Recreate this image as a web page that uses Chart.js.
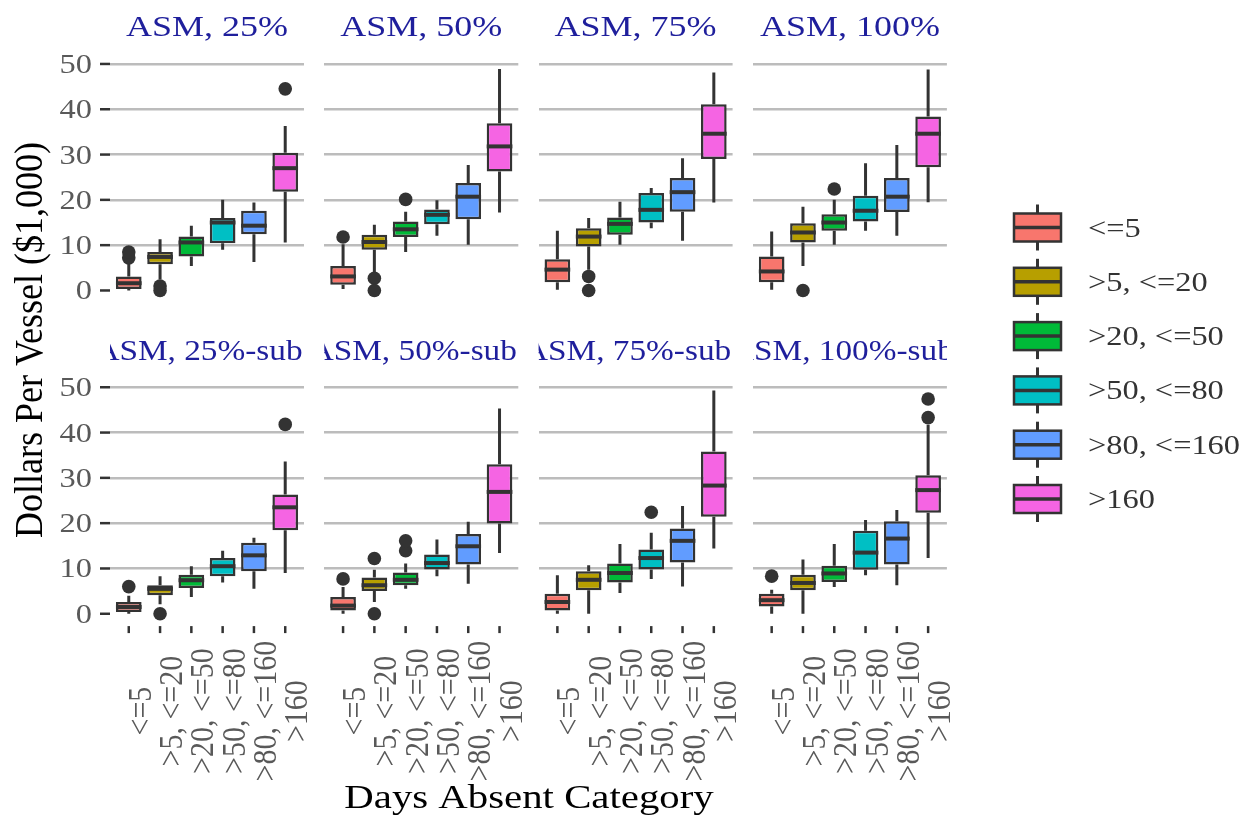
<!DOCTYPE html>
<html>
<head>
<meta charset="utf-8">
<script src="https://cdn.jsdelivr.net/npm/chart.js@4.4.1/dist/chart.umd.min.js"></script>
<style>
  html, body { margin: 0; padding: 0; background: #fff; }
  #wrap { position: relative; width: 1250px; height: 816px; overflow: hidden; background: #fff; filter: blur(0.4px); }
  #wrap canvas { position: absolute; left: 0; top: 0; }
</style>
</head>
<body>
<div id="wrap"></div>
<script>
// categorias do eixo x
const categories = ['<=5', '>5, <=20', '>20, <=50', '>50, <=80', '>80, <=160', '>160'];
const panelTitles = ['ASM, 25%', 'ASM, 50%', 'ASM, 75%', 'ASM, 100%',
                     'ASM, 25%-sub', 'ASM, 50%-sub', 'ASM, 75%-sub', 'ASM, 100%-sub'];
const boxColors = ['#F8766D', '#B79F00', '#00BA38', '#00BFC4', '#619CFF', '#F564E3'];

// estatisticas dos boxplots, uma linha por painel
const whiskerLow = [
    [0.0, 2.4, 5.4, 9.0, 6.3, 10.6],
    [0.3, 3.8, 8.5, 12.1, 10.1, 17.2],
    [0.15, 4.6, 10.1, 13.75, 11.0, 19.4],
    [0.15, 5.4, 10.1, 13.2, 12.1, 19.5],
    [0.0, 2.1, 3.7, 6.9, 5.5, 9.0],
    [0.0, 2.6, 5.5, 8.3, 6.6, 13.4],
    [0.0, 0.0, 4.6, 7.7, 6.0, 14.4],
    [0.0, 0.0, 5.9, 8.5, 6.3, 12.3]
];
const q1 = [
    [0.3, 5.8, 7.5, 10.4, 12.4, 21.8],
    [1.25, 9.0, 11.8, 14.6, 15.7, 26.25],
    [1.8, 9.7, 12.3, 15.0, 17.4, 29.0],
    [1.8, 10.6, 13.2, 15.2, 17.3, 27.2],
    [0.4, 4.1, 5.7, 8.3, 9.4, 18.45],
    [0.7, 5.0, 6.3, 9.8, 10.9, 19.9],
    [0.7, 5.2, 6.9, 9.8, 11.3, 21.4],
    [1.6, 5.2, 7.0, 9.7, 10.9, 22.3]
];
const medians = [
    [1.6, 7.4, 10.6, 15.0, 14.3, 27.0],
    [3.1, 10.7, 13.5, 16.7, 20.7, 31.8],
    [4.6, 11.9, 14.7, 17.8, 21.7, 34.6],
    [4.2, 12.8, 15.0, 17.6, 20.7, 34.6],
    [1.5, 5.5, 7.4, 10.5, 12.9, 23.5],
    [1.8, 6.3, 7.5, 11.2, 14.9, 26.9],
    [2.6, 7.5, 9.0, 12.3, 16.1, 28.3],
    [3.0, 6.8, 8.9, 13.5, 16.6, 27.3]
];
const q3 = [
    [3.1, 8.5, 11.9, 16.0, 17.6, 30.4],
    [5.4, 12.3, 15.2, 17.9, 23.7, 36.9],
    [6.9, 13.75, 16.1, 21.5, 24.8, 41.1],
    [7.5, 14.85, 16.8, 20.9, 24.8, 38.4],
    [2.6, 6.3, 8.6, 12.3, 15.7, 26.3],
    [3.7, 8.0, 9.1, 13.1, 17.6, 33.0],
    [4.4, 9.4, 11.1, 14.2, 18.8, 35.8],
    [4.4, 8.6, 10.6, 18.3, 20.4, 30.6]
];
const whiskerHigh = [
    [6.3, 11.3, 14.3, 20.0, 19.4, 36.3],
    [10.2, 14.5, 17.4, 19.9, 27.7, 48.9],
    [13.2, 16.0, 19.6, 22.6, 29.2, 48.1],
    [13.0, 18.5, 20.0, 28.1, 32.1, 48.8],
    [4.0, 8.3, 10.5, 13.9, 16.8, 33.6],
    [5.9, 9.7, 11.1, 16.4, 20.3, 45.3],
    [8.5, 10.7, 15.4, 17.9, 23.8, 49.3],
    [5.3, 12.0, 15.4, 20.7, 22.9, 41.7]
];
// outliers: [indice da categoria, valor]
const outliers = [
    [[0, 7.2], [0, 8.5], [1, 1.0], [1, 0.0], [5, 44.5]],
    [[0, 11.8], [1, 2.7], [1, 0.0], [2, 20.1]],
    [[1, 3.1], [1, 0.0]],
    [[1, 0.0], [2, 22.4]],
    [[0, 6.0], [1, 0.0], [5, 41.8]],
    [[0, 7.7], [1, 12.2], [1, 0.0], [2, 13.9], [2, 16.1]],
    [[3, 22.4]],
    [[0, 8.3], [5, 43.3], [5, 47.4]]
];

const yMin = -2.5, yMax = 51.8;

// layout dos paineis
const PANEL_W = 194, PANEL_H = 246;
const PANEL_LEFT = [110, 324.3, 538.6, 752.9];
const PANEL_TOP = [55.8, 379.1];
const SX = 1.2;      // texto meio esticado na horizontal
const SX_ROT = 1.1;  // idem, para texto girado
const SERIF = '"Liberation Serif", "Times New Roman", serif';
const DARK = '#333333';

const wrap = document.getElementById('wrap');

function texto(ctx, str, x, y, font, color, align, baseline, rot, sx) {
    ctx.save();
    ctx.translate(x, y);
    ctx.scale(sx || (rot ? SX_ROT : SX), 1);
    if (rot) ctx.rotate(rot);
    ctx.font = font;
    ctx.fillStyle = color;
    ctx.textAlign = align;
    ctx.textBaseline = baseline;
    ctx.fillText(str, 0, 0);
    ctx.restore();
}

function desenhaLegenda(ctx) {
    categories.forEach(function (c, i) {
        const cy = 227.5 + 54.3 * i;
        ctx.save();
        ctx.strokeStyle = DARK;
        ctx.lineWidth = 3;
        ctx.beginPath();
        ctx.moveTo(1037.5, cy - 23); ctx.lineTo(1037.5, cy + 23);
        ctx.stroke();
        ctx.fillStyle = boxColors[i];
        ctx.lineWidth = 2.5;
        ctx.fillRect(1014, cy - 14, 47, 28);
        ctx.strokeRect(1014, cy - 14, 47, 28);
        ctx.lineWidth = 3.5;
        ctx.beginPath();
        ctx.moveTo(1014, cy); ctx.lineTo(1061, cy);
        ctx.stroke();
        ctx.restore();
        texto(ctx, c, 1088, cy + 9, '27px ' + SERIF, '#333', 'left', 'alphabetic');
    });
}

function boxPlugin(p) {
    const row = Math.floor(p / 4), col = p % 4;
    return {
        id: 'boxplot' + p,
        beforeDatasetsDraw: function (chart) {
            const ctx = chart.ctx, xs = chart.scales.x, ys = chart.scales.y;
            ctx.save();
            ctx.strokeStyle = DARK;
            ctx.lineWidth = 3;
            categories.forEach(function (c, i) {
                const x = xs.getPixelForValue(i);
                ctx.beginPath();
                ctx.moveTo(x, ys.getPixelForValue(whiskerLow[p][i]));
                ctx.lineTo(x, ys.getPixelForValue(q1[p][i]));
                ctx.moveTo(x, ys.getPixelForValue(q3[p][i]));
                ctx.lineTo(x, ys.getPixelForValue(whiskerHigh[p][i]));
                ctx.stroke();
            });
            ctx.restore();
        },
        afterDatasetDraw: function (chart, args) {
            if (args.index !== 0) return;
            const ctx = chart.ctx, ys = chart.scales.y;
            const barras = chart.getDatasetMeta(0).data;
            ctx.save();
            ctx.strokeStyle = DARK;
            ctx.lineWidth = 4;
            barras.forEach(function (b, i) {
                const y = ys.getPixelForValue(medians[p][i]);
                ctx.beginPath();
                ctx.moveTo(b.x - b.width / 2, y);
                ctx.lineTo(b.x + b.width / 2, y);
                ctx.stroke();
            });
            ctx.restore();
        },
        afterDraw: function (chart) {
            const ctx = chart.ctx, xs = chart.scales.x, ys = chart.scales.y;
            const area = chart.chartArea;

            // titulo do painel, cortado na largura do painel
            ctx.save();
            ctx.beginPath();
            ctx.rect(area.left, 0, area.right - area.left, 816);
            ctx.clip();
            const desloc = row === 1 ? -8 : 0;
            texto(ctx, panelTitles[p], (area.left + area.right) / 2 + desloc, area.top - 19.5,
                '30px ' + SERIF, '#1f1f9c', 'center', 'alphabetic', 0, row === 1 ? 1.11 : SX);
            ctx.restore();

            // eixo y so na primeira coluna
            if (col === 0) {
                ys.ticks.forEach(function (t) {
                    const y = ys.getPixelForValue(t.value);
                    ctx.save();
                    ctx.strokeStyle = DARK;
                    ctx.lineWidth = 2.5;
                    ctx.beginPath();
                    ctx.moveTo(area.left - 10, y); ctx.lineTo(area.left, y);
                    ctx.stroke();
                    ctx.restore();
                    texto(ctx, String(t.value), area.left - 18, y + 9, '27px ' + SERIF, '#595959', 'right', 'alphabetic');
                });
            }

            // eixo x so na linha de baixo
            if (row === 1) {
                categories.forEach(function (c, i) {
                    const x = xs.getPixelForValue(i);
                    ctx.save();
                    ctx.strokeStyle = DARK;
                    ctx.lineWidth = 2.5;
                    ctx.beginPath();
                    ctx.moveTo(x, area.bottom + 1); ctx.lineTo(x, area.bottom + 8);
                    ctx.stroke();
                    ctx.restore();
                    texto(ctx, c, x + 22, area.bottom + 86, '30px ' + SERIF, '#595959', 'center', 'alphabetic', -Math.PI / 2);
                });
            }

            if (p === 0) {
                texto(ctx, 'Dollars Per Vessel ($1,000)', 42, 340, '36px ' + SERIF, '#000', 'center', 'alphabetic', -Math.PI / 2);
                texto(ctx, 'Days Absent Category', 529, 808, '34px ' + SERIF, '#000', 'center', 'alphabetic');
                desenhaLegenda(ctx);
            }
        }
    };
}

function criaPainel(p) {
    const row = Math.floor(p / 4), col = p % 4;
    const left = PANEL_LEFT[col], top = PANEL_TOP[row];
    const canvas = document.createElement('canvas');
    canvas.width = 1250;
    canvas.height = 816;
    wrap.appendChild(canvas);

    const caixas = categories.map(function (c, i) {
        return { x: i, y: [q1[p][i], q3[p][i]] };
    });
    const pontos = outliers[p].map(function (o) {
        return { x: o[0], y: o[1] };
    });

    new Chart(canvas, {
        type: 'bar',
        data: {
            datasets: [{
                type: 'bar',
                data: caixas,
                backgroundColor: boxColors,
                borderColor: DARK,
                borderWidth: 2.5,
                borderSkipped: false,
                barPercentage: 0.82,
                categoryPercentage: 1,
                order: 2
            }, {
                type: 'scatter',
                data: pontos,
                backgroundColor: DARK,
                borderColor: DARK,
                borderWidth: 0,
                pointRadius: 6.8,
                order: 1
            }]
        },
        options: {
            responsive: false,
            animation: false,
            devicePixelRatio: 1,
            events: [],
            layout: {
                padding: { left: left, top: top, right: 1250 - left - PANEL_W, bottom: 816 - top - PANEL_H }
            },
            plugins: { legend: { display: false }, tooltip: { enabled: false } },
            scales: {
                x: { type: 'linear', min: -0.6, max: 5.6, offset: false, display: false },
                y: {
                    min: yMin, max: yMax,
                    ticks: { display: false, stepSize: 10, includeBounds: false },
                    grid: {
                        color: function (c) { return c.tick && c.tick.value === 0 ? 'rgba(0,0,0,0)' : '#bcbcbc'; },
                        lineWidth: 2.5,
                        drawTicks: false
                    },
                    border: { display: false },
                    afterFit: function (s) { s.width = 0; }
                }
            }
        },
        plugins: [boxPlugin(p)]
    });
}

for (let p = 0; p < 8; p++) criaPainel(p);
</script>
</body>
</html>
